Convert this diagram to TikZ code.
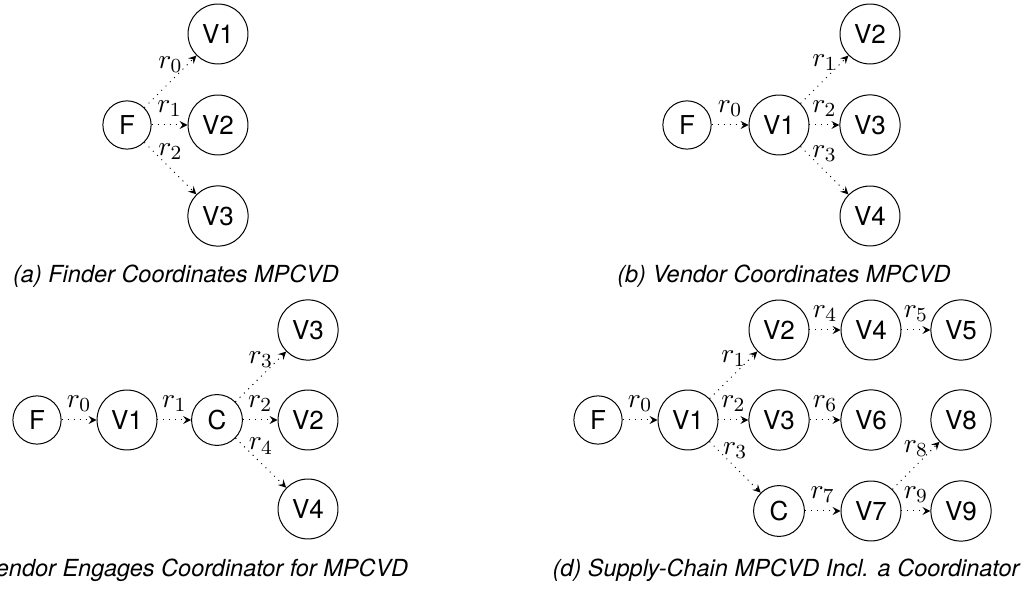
\documentclass[tikz,border=0pt]{standalone}
\usepackage[no-math]{fontspec}
\setmainfont{TeX Gyre Heros}
\usepackage{amsmath}
\usetikzlibrary{arrows}

\begin{document}
\begin{tikzpicture}[x=0.4pt,y=-0.4pt,
  party/.style={circle,draw,font=\fontsize{10.4}{12}\selectfont},
  msg/.style={-stealth,dotted},
  rlab/.style={above,font=\fontsize{11}{13}\selectfont},
  subcap/.style={anchor=base,font=\fontsize{9.4}{11}\selectfont\itshape}]
\useasboundingbox (0,0) rectangle (1031,590);
\clip (0,0) rectangle (1031,590);
\node[party] (af) at (127,125) {F};
\node[party] (av1) at (218,34) {V1};
\node[party] (av2) at (218,125) {V2};
\node[party] (av3) at (218,216) {V3};
\draw[msg] (af) -- node[rlab] {$r_0$} (av1);
\draw[msg] (af) -- node[rlab] {$r_1$} (av2);
\draw[msg] (af) -- node[rlab] {$r_2$} (av3);
\node[subcap] (capa) at (176,283) {(a) Finder Coordinates MPCVD};
\node[party] (bf) at (687,125) {F};
\node[party] (bv1) at (779,125) {V1};
\node[party] (bv2) at (870,34) {V2};
\node[party] (bv3) at (870,125) {V3};
\node[party] (bv4) at (870,216) {V4};
\draw[msg] (bf) -- node[rlab] {$r_0$} (bv1);
\draw[msg] (bv1) -- node[rlab] {$r_1$} (bv2);
\draw[msg] (bv1) -- node[rlab] {$r_2$} (bv3);
\draw[msg] (bv1) -- node[rlab] {$r_3$} (bv4);
\node[subcap] (capb) at (784,283) {(b) Vendor Coordinates MPCVD};
\node[party] (cf) at (37,420) {F};
\node[party] (cv1) at (127,420) {V1};
\node[party] (cc) at (217,420) {C};
\node[party] (cv3) at (308,330) {V3};
\node[party] (cv2) at (308,420) {V2};
\node[party] (cv4) at (308,509) {V4};
\draw[msg] (cf) -- node[rlab] {$r_0$} (cv1);
\draw[msg] (cv1) -- node[rlab] {$r_1$} (cc);
\draw[msg] (cc) -- node[rlab] {$r_3$} (cv3);
\draw[msg] (cc) -- node[rlab] {$r_2$} (cv2);
\draw[msg] (cc) -- node[rlab] {$r_4$} (cv4);
\node[subcap] (capc) at (178,577) {(c) Vendor Engages Coordinator for MPCVD};
\node[party] (df) at (598,420) {F};
\node[party] (dv1) at (688,420) {V1};
\node[party] (dv2) at (779,330) {V2};
\node[party] (dv3) at (779,420) {V3};
\node[party] (dc) at (779,511) {C};
\node[party] (dv4) at (871,330) {V4};
\node[party] (dv5) at (961,330) {V5};
\node[party] (dv6) at (871,420) {V6};
\node[party] (dv7) at (871,511) {V7};
\node[party] (dv8) at (961,420) {V8};
\node[party] (dv9) at (961,511) {V9};
\draw[msg] (df) -- node[rlab] {$r_0$} (dv1);
\draw[msg] (dv1) -- node[rlab] {$r_1$} (dv2);
\draw[msg] (dv1) -- node[rlab] {$r_2$} (dv3);
\draw[msg] (dv1) -- node[rlab] {$r_3$} (dc);
\draw[msg] (dv2) -- node[rlab] {$r_4$} (dv4);
\draw[msg] (dv4) -- node[rlab] {$r_5$} (dv5);
\draw[msg] (dv3) -- node[rlab] {$r_6$} (dv6);
\draw[msg] (dc) -- node[rlab] {$r_7$} (dv7);
\draw[msg] (dv7) -- node[rlab] {$r_8$} (dv8);
\draw[msg] (dv7) -- node[rlab] {$r_9$} (dv9);
\node[subcap] (capd) at (786,577) {(d) Supply-Chain MPCVD Incl. a Coordinator};
\end{tikzpicture}
\end{document}
